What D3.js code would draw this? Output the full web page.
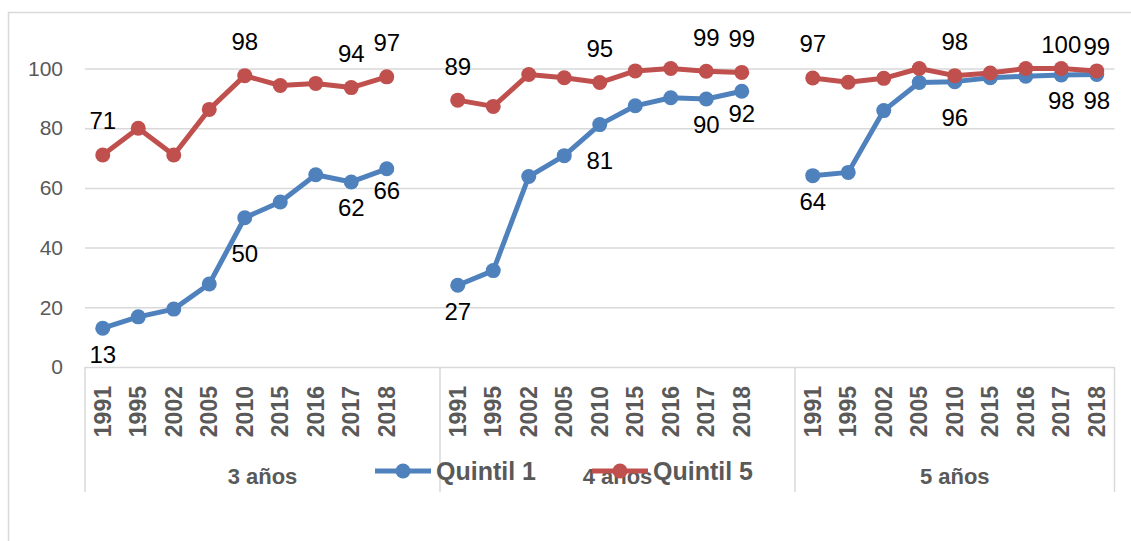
<!DOCTYPE html>
<html>
<head>
<meta charset="utf-8">
<script src="https://cdn.jsdelivr.net/npm/d3@7"></script>
<style>
  body { margin: 0; background: #fff; }
  svg { display: block; font-family: "Liberation Sans", Arial, sans-serif; }
  .grid line { stroke: #d9d9d9; stroke-width: 1.5; }
  .grid path { display: none; }
  .grid text { fill: #595959; font-size: 21px; }
</style>
</head>
<body>
<svg id="chart" width="1131" height="541"></svg>
<script>
// chart data
var groups = ["3 años", "4 años", "5 años"];
var years = ["1991", "1995", "2002", "2005", "2010", "2015", "2016", "2017", "2018"];

var quintil1 = [
  [13, 16.8, 19.4, 27.8, 50, 55.3, 64.4, 62, 66.4],
  [27.4, 32.3, 63.8, 70.8, 81.2, 87.5, 90.2, 89.8, 92.4],
  [64.1, 65.2, 85.9, 95.3, 95.6, 96.9, 97.4, 97.8, 98]
];
var quintil5 = [
  [71, 80, 71, 86.3, 97.6, 94.3, 95, 93.6, 97.2],
  [89.4, 87.3, 98, 96.9, 95.3, 99.2, 100, 99.1, 98.7],
  [96.8, 95.4, 96.7, 100, 97.6, 98.5, 100, 100, 99.2]
];
// which years carry a data label
var labelled = ["1991", "2010", "2017", "2018"];
var yTicks = [0, 20, 40, 60, 80, 100];

var series = [
  { name: "Quintil 1", values: quintil1, color: "#4f81bd" },
  { name: "Quintil 5", values: quintil5, color: "#c0504d" }
];

var svg = d3.select("#chart");

// outer chart frame
svg.append("rect")
  .attr("x", 8.5).attr("y", 12.5)
  .attr("width", 1140).attr("height", 560)
  .attr("fill", "#fff")
  .attr("stroke", "#d9d9d9")
  .attr("stroke-width", 1.5);

// slots: 9 years per group with an empty slot between groups
var slots = [];
groups.forEach(function(g, gi) {
  years.forEach(function(yr) { slots.push(g + "|" + yr); });
  if (gi < groups.length - 1) slots.push(g + "|gap");
});

var x = d3.scaleBand().domain(slots).range([85, 1114.5]).padding(0);
var y = d3.scaleLinear().domain([0, 100]).range([367, 68.5]);

function cx(key) { return x(key) + x.bandwidth() / 2; }

// gridlines + y labels
svg.append("g")
  .attr("class", "grid")
  .attr("transform", "translate(85,0)")
  .call(d3.axisLeft(y).tickValues(yTicks).tickSize(-1029.5).tickPadding(22))
  .call(function(g) { g.selectAll("line").attr("x1", 0); });

// category box lines
var bounds = [0, 10, 20].map(function(i) { return x(slots[i]); }).concat([1114.5]);
svg.selectAll(".sep")
  .data(bounds).enter()
  .append("line")
  .attr("x1", function(d) { return d; })
  .attr("x2", function(d) { return d; })
  .attr("y1", 367).attr("y2", 492)
  .attr("stroke", "#d9d9d9")
  .attr("stroke-width", 1.5);

// year labels
groups.forEach(function(g) {
  svg.selectAll(null)
    .data(years).enter()
    .append("text")
    .attr("transform", function(d) { return "translate(" + cx(g + "|" + d) + ",386) rotate(-90)"; })
    .attr("text-anchor", "end")
    .attr("dy", "0.35em")
    .attr("font-size", 23)
    .attr("font-weight", "bold")
    .attr("fill", "#595959")
    .text(function(d) { return d; });
});

// group labels
svg.selectAll(".grp")
  .data(groups).enter()
  .append("text")
  .attr("x", function(d, i) { return (bounds[i] + bounds[i + 1]) / 2; })
  .attr("y", 476)
  .attr("dy", "0.35em")
  .attr("text-anchor", "middle")
  .attr("font-size", 22)
  .attr("font-weight", "bold")
  .attr("fill", "#595959")
  .text(function(d) { return d; });

// lines and markers
var line = d3.line()
  .x(function(d) { return cx(d.key); })
  .y(function(d) { return y(d.v); });

series.forEach(function(s) {
  s.values.forEach(function(vals, gi) {
    var pts = vals.map(function(v, i) {
      return { key: groups[gi] + "|" + years[i], v: v, year: years[i], g: gi };
    });
    s.points = (s.points || []).concat(pts);
    svg.append("path")
      .datum(pts)
      .attr("d", line)
      .attr("fill", "none")
      .attr("stroke", s.color)
      .attr("stroke-width", 5)
      .attr("stroke-linejoin", "round");
    svg.selectAll(null)
      .data(pts).enter()
      .append("circle")
      .attr("cx", function(d) { return cx(d.key); })
      .attr("cy", function(d) { return y(d.v); })
      .attr("r", 7.5)
      .attr("fill", s.color);
  });
});

// data labels: Quintil 1 below, Quintil 5 above
function labelDy(si, d) {
  if (si === 0) {
    if (d.year === "2010") return 36;
    if (d.year === "2018" && d.g < 2) return 22;
    return 26;
  }
  if (d.g === 2 && (d.year === "2017" || d.year === "2018")) return -24;
  return -34;
}

series.forEach(function(s, si) {
  svg.selectAll(null)
    .data(s.points.filter(function(d) { return labelled.indexOf(d.year) >= 0; })).enter()
    .append("text")
    .attr("x", function(d) { return cx(d.key); })
    .attr("y", function(d) { return y(d.v) + labelDy(si, d); })
    .attr("dy", "0.35em")
    .attr("text-anchor", "middle")
    .attr("font-size", 24)
    .attr("fill", "#000")
    .text(function(d) { return d3.format(".0f")(d.v); });
});

// legend
var legendPos = [375, 592];
series.forEach(function(s, i) {
  var lx = legendPos[i];
  var lg = svg.append("g").attr("transform", "translate(" + lx + ",471)");
  lg.append("line")
    .attr("x1", 0).attr("x2", 56)
    .attr("stroke", s.color)
    .attr("stroke-width", 5);
  lg.append("circle")
    .attr("cx", 28).attr("r", 7.5)
    .attr("fill", s.color);
  lg.append("text")
    .attr("x", 61)
    .attr("dy", "0.35em")
    .attr("font-size", 25)
    .attr("font-weight", "bold")
    .attr("fill", "#595959")
    .text(s.name);
});
</script>
</body>
</html>
